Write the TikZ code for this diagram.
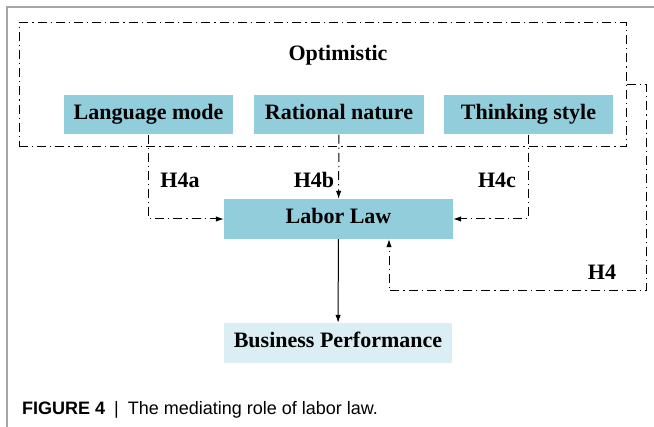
\documentclass[tikz,border=0pt]{standalone}
\usepackage{fontspec}
\setmainfont{Liberation Serif}
\newfontfamily\capfont{Liberation Sans}
\usetikzlibrary{arrows.meta,positioning}
\definecolor{boxblue}{HTML}{92CDDC}
\definecolor{paleblue}{HTML}{DAEEF3}
\begin{document}
\begin{tikzpicture}[x=1pt,y=-1pt,
        main/.style = {fill=boxblue, inner sep=0pt, minimum height=39pt, text height=14.5pt, text depth=4.5pt, font=\fontsize{22}{25}\selectfont\bfseries},
        lab/.style = {font=\fontsize{22}{25}\selectfont\bfseries},
        dd/.style = {line width=1pt, dash pattern=on 9pt off 4pt on 1.2pt off 4pt},
        >={Latex[length=8pt,width=5.5pt]}]
        \useasboundingbox (0,0) rectangle (654,427);
        \draw[gray!70, line width=1.2pt] (654,7) -- (7,7) -- (7,427);

        \node[dd,draw,minimum width=607pt,minimum height=124pt,inner sep=0pt] (opt) at (322.5,85) {};
        \node[lab] (optlabel) at (338,55) {Optimistic};

        \node[main,minimum width=169pt] (lang) at (148.5,115) {Language mode};
        \node[main,minimum width=170pt] (rat) at (339,115) {Rational nature};
        \node[main,minimum width=169pt] (think) at (528.5,115) {Thinking style};
        \node[main,minimum width=229pt,minimum height=40pt] (law) at (338.5,219) {Labor Law};
        \node[main,fill=paleblue,minimum width=228pt,minimum height=40pt] (perf) at (338,343) {Business Performance};

        \draw[dd,->] (lang) |- (law);
        \draw[dd,->] (rat) -- (law);
        \draw[dd,->] (think) |- (law);
        \draw[dd,->] (opt.east) -- ++(20,0) -- ++(0,206) -| ([xshift=50.5pt]law.south);
        \draw[line width=1pt,->] (law) -- (perf);

        \node[lab] (h4a) at (180,180) {H4a};
        \node[lab] (h4b) at (314,180) {H4b};
        \node[lab] (h4c) at (497,180) {H4c};
        \node[lab] (h4) at (602,272) {H4};

        \node[anchor=base west, inner sep=0pt, font=\capfont\fontsize{18}{20}\selectfont] (caption) at (22,415)
            {\textbf{FIGURE 4}\enspace|\enspace The mediating role of labor law.};
    \end{tikzpicture}
\end{document}
